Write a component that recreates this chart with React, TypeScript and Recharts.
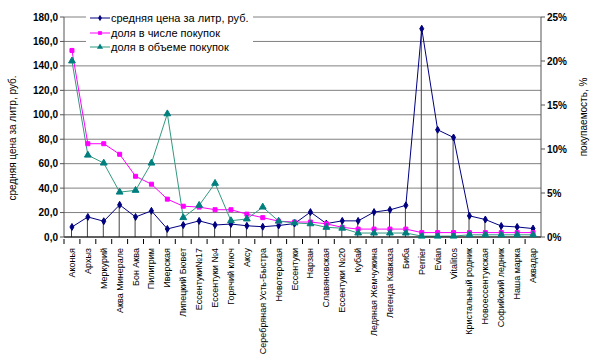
import React from 'react';
import { ComposedChart, Line, Bar, XAxis, YAxis, CartesianGrid, Legend, Symbols } from 'recharts';

const brands = [
  'Аконья', 'Архыз', 'Меркурий', 'Аква Минерале', 'Бон Аква', 'Пилигрим', 'Иверская',
  'Липецкий Бювет', 'Ессентуки№17', 'Ессентуки №4', 'Горячий ключ', 'Аксу',
  'Серебряная Усть-Быстра', 'Новотерская', 'Ессентуки', 'Нарзан', 'Славяновская',
  'Ессентуки №20', 'Кубай', 'Ледяная Жемчужина', 'Легенда Кавказа', 'Биба', 'Perrier',
  'Evian', 'Vitalitos', 'Кристальный родник', 'Новоессентукская', 'Софийский ледник',
  'Наша марка', 'Аквадар',
];

// средняя цена за литр, руб.
const pricePerLitre = [
  8.2, 16.4, 12.9, 26.3, 16.4, 21.4, 6.6, 9.8, 13.2, 9.8, 10.6, 9.2, 8.4, 9.4, 11.0,
  20.4, 11.0, 13.2, 13.2, 20.4, 22.2, 25.9, 170.4, 87.7, 81.4, 17.3, 14.3, 9.0, 8.2, 6.9,
];

// доля в числе покупок, %
const shareOfPurchases = [
  21.2, 10.6, 10.6, 9.4, 6.9, 6.0, 4.3, 3.5, 3.4, 3.1, 3.1, 2.6, 2.2, 1.8, 1.7,
  1.7, 1.5, 1.1, 0.9, 0.9, 0.9, 0.9, 0.5, 0.5, 0.5, 0.5, 0.5, 0.5, 0.5, 0.5,
];

// доля в объеме покупок, %
const shareOfVolume = [
  20.0, 9.3, 8.4, 5.1, 5.3, 8.4, 14.0, 2.2, 3.6, 6.1, 1.85, 2.05, 3.4, 1.8, 1.6,
  1.5, 1.1, 1.0, 0.45, 0.45, 0.45, 0.45, 0.1, 0.1, 0.1, 0.25, 0.25, 0.25, 0.25, 0.25,
];

const priceTicks = [0, 20, 40, 60, 80, 100, 120, 140, 160, 180];
const percentTicks = [0, 5, 10, 15, 20, 25];

const data = brands.map((name, i) => ({
  name,
  price: pricePerLitre[i],
  purchases: shareOfPurchases[i],
  volume: shareOfVolume[i],
}));

const NAVY = '#000080';
const MAGENTA = '#ff00ff';
const TEAL = '#339980';
const TEAL_DOT = '#007f7f';
const FONT = 'Arial, "Liberation Sans", sans-serif';

const PLOT_WIDTH = 600 - 64 - 59;

const XTick = (props: any) => {
  const { x, y, payload } = props;
  const half = PLOT_WIDTH / brands.length / 2;
  return (
    <g>
      <line x1={x - half} y1={y - 6} x2={x - half} y2={y - 1} stroke="#000" />
      <text
        x={x}
        y={y + 3}
        transform={`rotate(-90, ${x}, ${y + 3})`}
        textAnchor="end"
        dominantBaseline="central"
        fontSize={9}
        fontFamily={FONT}
        fill="#000"
      >
        {payload.value}
      </text>
    </g>
  );
};

const dot = (type: 'diamond' | 'square' | 'triangle', color: string, size: number) => (p: any) => (
  <Symbols key={`${type}-${p.index}`} cx={p.cx} cy={p.cy} type={type} size={size} fill={color} stroke={color} />
);

const legendItems = [
  { label: 'средняя цена за литр, руб.', color: NAVY, dotColor: NAVY, type: 'diamond' as const, size: 12 },
  { label: 'доля в числе покупок', color: MAGENTA, dotColor: MAGENTA, type: 'square' as const, size: 14 },
  { label: 'доля в объеме покупок', color: TEAL, dotColor: TEAL_DOT, type: 'triangle' as const, size: 16 },
];

const LegendBox = () => (
  <div style={{ background: '#fff', padding: '3px 4px 4px 4px', fontFamily: FONT, fontSize: 11, color: '#000' }}>
    {legendItems.map((it) => (
      <div key={it.label} style={{ display: 'flex', alignItems: 'center', height: 14.5 }}>
        <svg width={20} height={10} style={{ marginRight: 1 }}>
          <line x1={0} y1={5} x2={20} y2={5} stroke={it.color} />
          <Symbols cx={10} cy={5} type={it.type} size={it.size} fill={it.dotColor} />
        </svg>
        <span>{it.label}</span>
      </div>
    ))}
  </div>
);

export default function App() {
  return (
    <div style={{ position: 'absolute', left: 0, top: 0, width: 600, height: 356, background: '#fff' }}>
      <ComposedChart width={600} height={356} data={data} margin={{ top: 17, right: 0, bottom: 0, left: 0 }}>
        <CartesianGrid yAxisId="price" vertical={false} stroke="#808080" />
        <XAxis
          dataKey="name"
          height={119}
          interval={0}
          tick={<XTick />}
          tickLine={false}
          axisLine={{ stroke: '#000' }}
        />
        <YAxis
          yAxisId="price"
          width={64}
          domain={[0, 180]}
          ticks={priceTicks}
          tickFormatter={(v: number) => v.toFixed(1).replace('.', ',')}
          tick={{ fontSize: 10, fontWeight: 'bold', fill: '#000', fontFamily: FONT }}
          tickSize={4}
          tickMargin={2}
          axisLine={{ stroke: '#555' }}
          tickLine={{ stroke: '#555' }}
          label={{
            value: 'средняя цена за литр, руб.',
            angle: -90,
            position: 'center',
            dx: -20,
            dy: 11,
            style: { fontSize: 10, fontFamily: FONT, fill: '#000', textAnchor: 'middle' },
          }}
        />
        <YAxis
          yAxisId="share"
          orientation="right"
          width={59}
          domain={[0, 25]}
          ticks={percentTicks}
          tickFormatter={(v: number) => `${v}%`}
          tick={{ fontSize: 10, fontWeight: 'bold', fill: '#000', fontFamily: FONT }}
          tickSize={4}
          tickMargin={2}
          axisLine={{ stroke: '#555' }}
          tickLine={{ stroke: '#555' }}
          label={{
            value: 'покупаемость, %',
            angle: -90,
            position: 'center',
            dx: 13,
            dy: -10,
            style: { fontSize: 10, fontFamily: FONT, fill: '#000', textAnchor: 'middle' },
          }}
        />
        <Bar yAxisId="price" dataKey="price" barSize={1} fill="#444" isAnimationActive={false} legendType="none" />
        <Line
          yAxisId="price"
          dataKey="price"
          stroke={NAVY}
          strokeWidth={1}
          dot={dot('diamond', NAVY, 14)}
          isAnimationActive={false}
        />
        <Line
          yAxisId="share"
          dataKey="purchases"
          stroke={MAGENTA}
          strokeWidth={1}
          dot={dot('square', MAGENTA, 16)}
          isAnimationActive={false}
        />
        <Line
          yAxisId="share"
          dataKey="volume"
          stroke={TEAL}
          strokeWidth={1}
          dot={dot('triangle', TEAL_DOT, 20)}
          isAnimationActive={false}
        />
        <Legend
          layout="vertical"
          align="center"
          verticalAlign="middle"
          content={<LegendBox />}
          wrapperStyle={{ left: 86, top: 8, width: 'auto' }}
        />
      </ComposedChart>
    </div>
  );
}
